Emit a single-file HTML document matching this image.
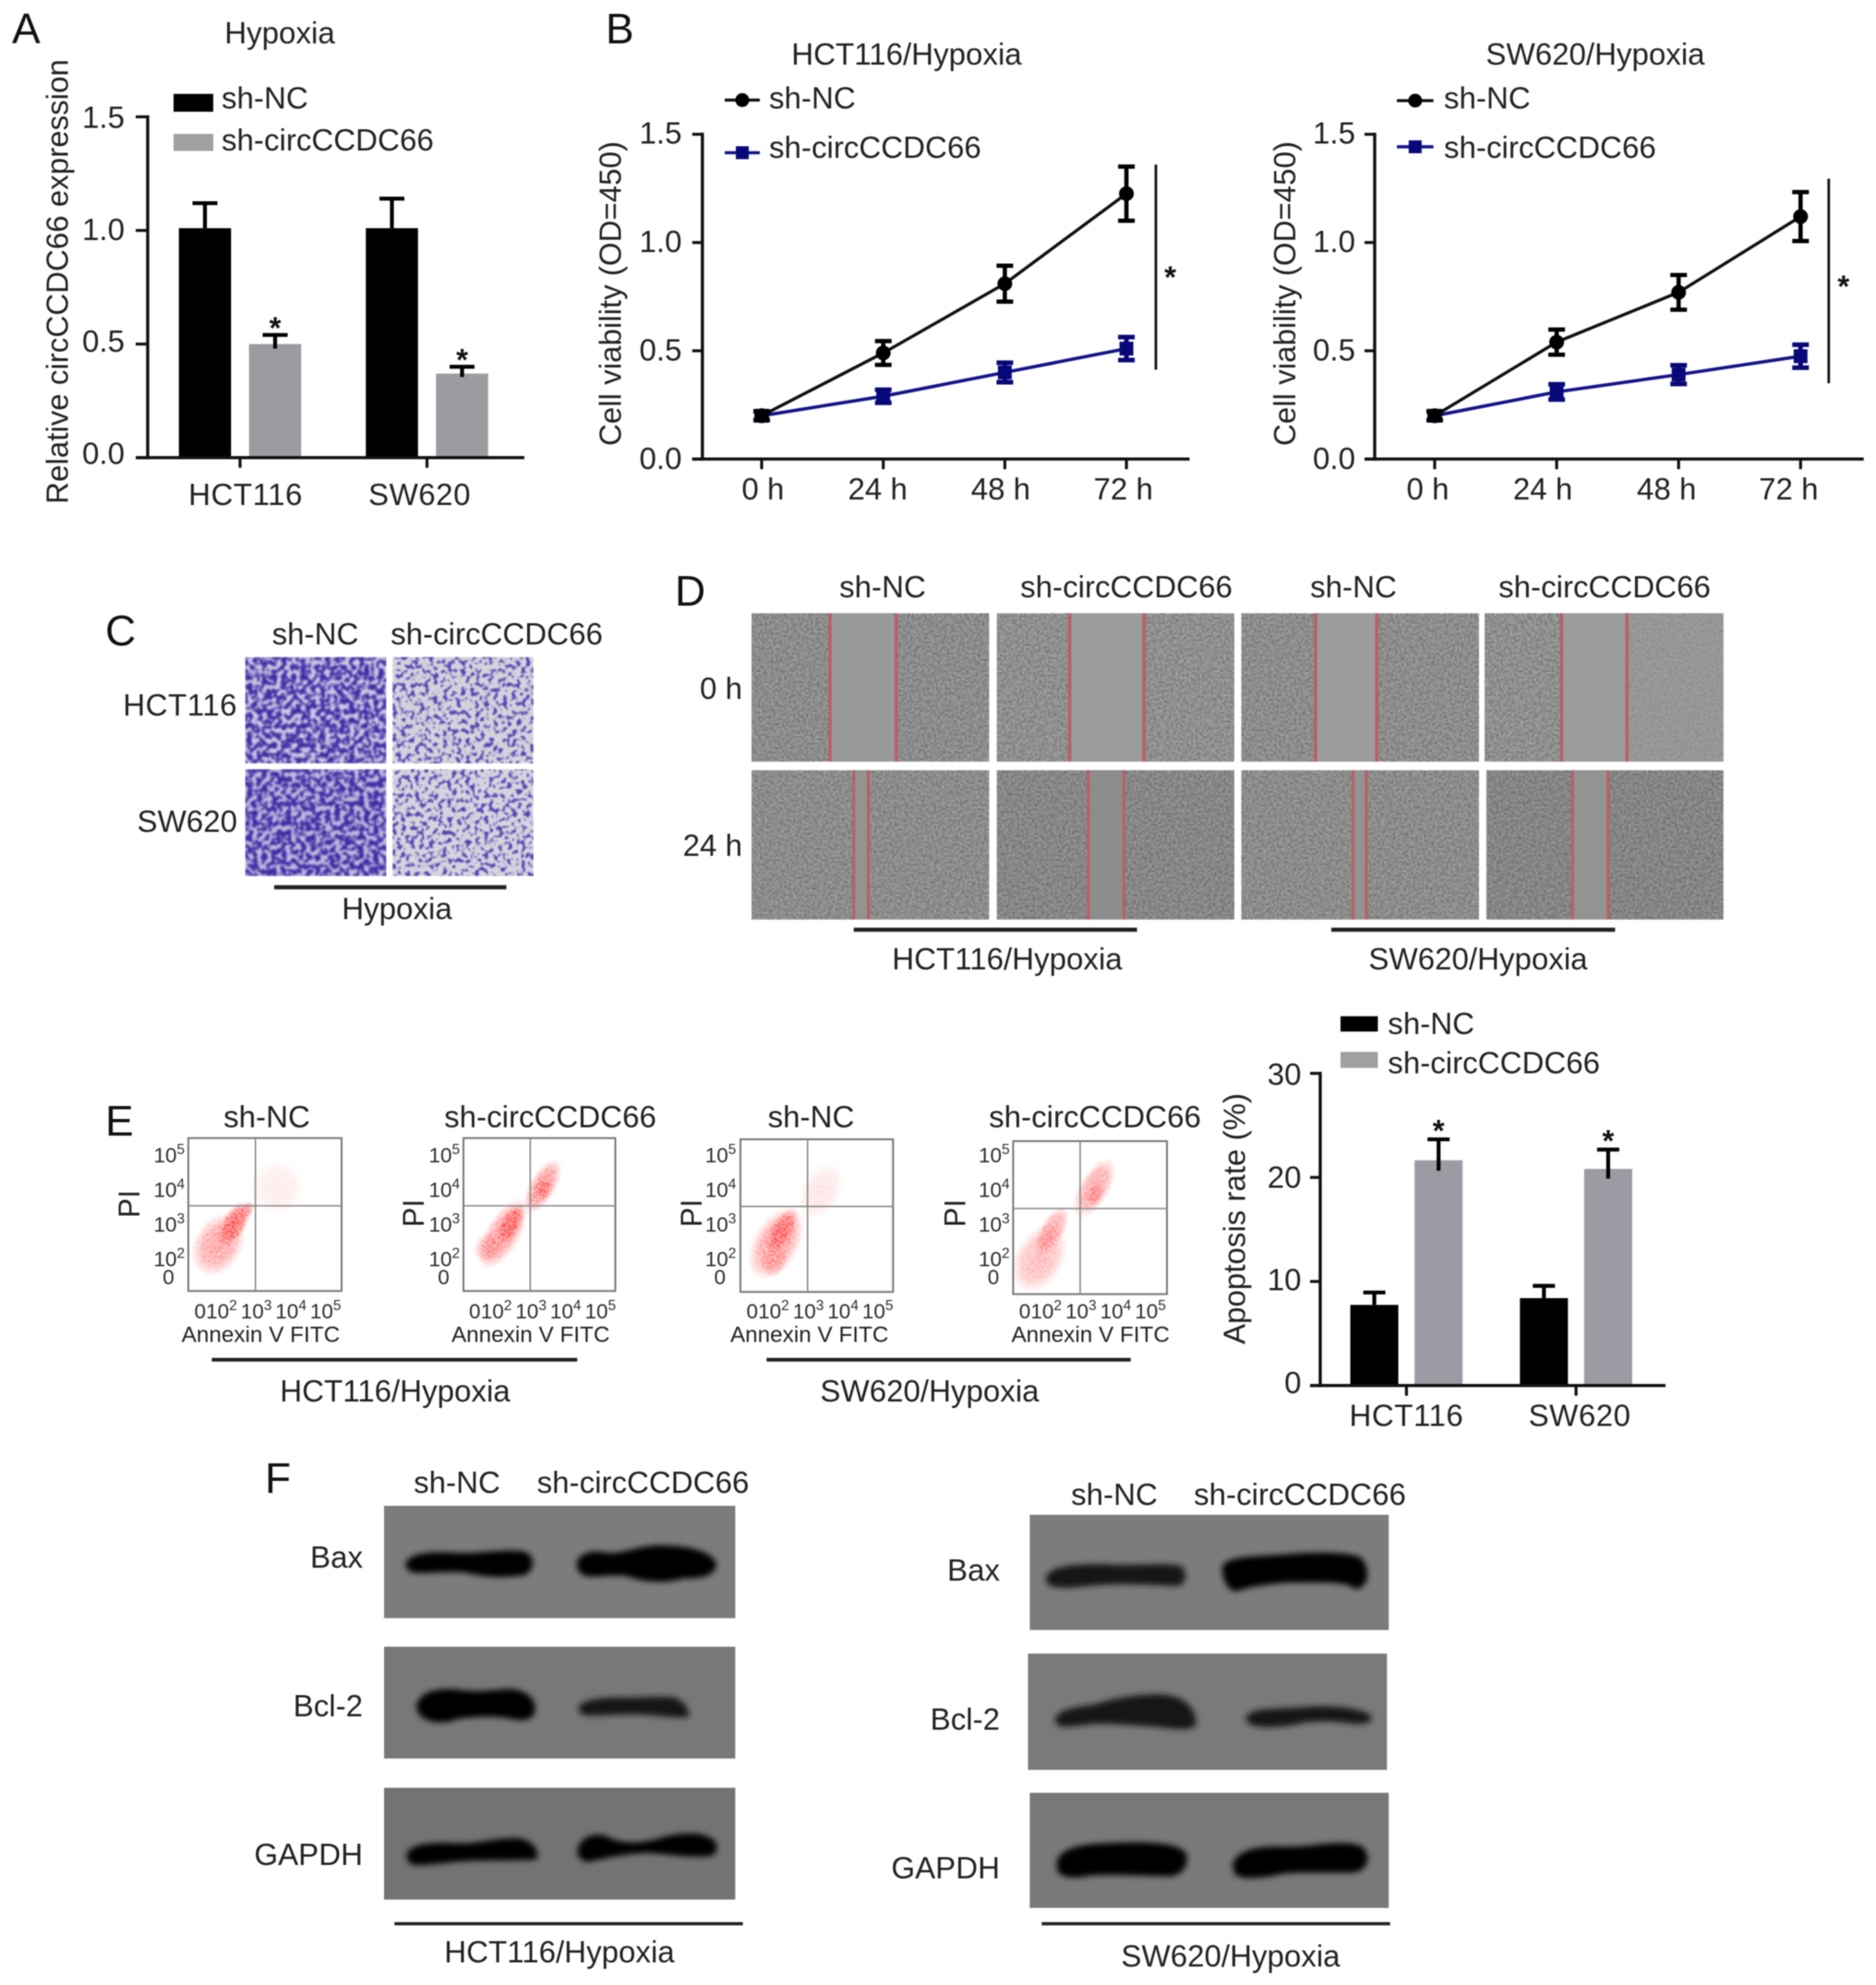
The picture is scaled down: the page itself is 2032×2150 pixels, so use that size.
<!DOCTYPE html>
<html lang="en">
<head>
<meta charset="utf-8">
<title>circCCDC66 hypoxia figure</title>
<style>
html,body{margin:0;padding:0;background:#fff;}
svg{display:block;filter:blur(.6px);}
text{font-family:"Liberation Sans",Arial,sans-serif;fill:#222;}
.t{font-size:33.1px;}
.p{font-size:46px;fill:#111;}
.f{font-size:24.3px;}
</style>
</head>
<body>
<svg id="figure" xmlns="http://www.w3.org/2000/svg" width="2032" height="2150" viewBox="0 0 2032 2150">
<defs>
  <filter id="tw-dense" x="0" y="0" width="1" height="1" color-interpolation-filters="sRGB">
    <feTurbulence type="fractalNoise" baseFrequency=".19" numOctaves="2" seed="4"/>
    <feColorMatrix values="0 0 0 0 .24  0 0 0 0 .17  0 0 0 0 .64  8 0 0 0 -3.4"/>
    <feGaussianBlur stdDeviation="1"/>
  </filter>
  <filter id="tw-sparse" x="0" y="0" width="1" height="1" color-interpolation-filters="sRGB">
    <feTurbulence type="fractalNoise" baseFrequency=".2" numOctaves="2" seed="9"/>
    <feColorMatrix values="0 0 0 0 .33  0 0 0 0 .25  0 0 0 0 .7  10 0 0 0 -5.3"/>
    <feGaussianBlur stdDeviation=".9"/>
  </filter>
  <filter id="cells" x="0" y="0" width="1" height="1" color-interpolation-filters="sRGB">
    <feTurbulence type="fractalNoise" baseFrequency=".42" numOctaves="2" seed="5"/>
    <feColorMatrix values="0 0 0 0 .15  0 0 0 0 .15  0 0 0 0 .15  1 0 0 0 -.34"/>
    <feGaussianBlur stdDeviation=".5"/>
  </filter>
  <filter id="speck" x="-10%" y="-10%" width="120%" height="120%" color-interpolation-filters="sRGB">
    <feTurbulence type="fractalNoise" baseFrequency=".8" numOctaves="1" seed="7" result="n"/>
    <feColorMatrix in="n" values="0 0 0 0 0  0 0 0 0 0  0 0 0 0 0  8 0 0 0 -3.2" result="m"/>
    <feComposite in="SourceGraphic" in2="m" operator="in"/>
    <feGaussianBlur stdDeviation=".4"/>
  </filter>
  <filter id="band" x="-15%" y="-50%" width="130%" height="200%"><feGaussianBlur stdDeviation="9"/></filter>
  <radialGradient id="flowGrad">
    <stop offset="0" stop-color="#ff1414" stop-opacity="1"/>
    <stop offset=".6" stop-color="#ff2424" stop-opacity=".8"/>
    <stop offset="1" stop-color="#ff4444" stop-opacity="0"/>
  </radialGradient>
</defs>

<!-- panel letters -->
<text class="p" x="13" y="47">A</text>
<text class="p" x="656" y="47">B</text>
<text class="p" x="114" y="699">C</text>
<text class="p" x="731" y="656">D</text>
<text class="p" x="114" y="1230">E</text>
<text class="p" x="287" y="1617">F</text>

<!-- chart containers -->
<g id="chart-a"></g>
<g id="chart-b1"></g>
<g id="chart-b2"></g>
<g id="chart-e"></g>
<g id="flow"></g>

<!-- Panel C -->
<g>
  <text class="t" x="341.5" y="698" text-anchor="middle">sh-NC</text>
  <text class="t" x="538" y="698" text-anchor="middle">sh-circCCDC66</text>
  <text class="t" x="257" y="775" text-anchor="end" letter-spacing=".5">HCT116</text>
  <text class="t" x="257" y="901" text-anchor="end">SW620</text>
  <g><rect x="265.7" y="711.7" width="152.7" height="115" fill="#cfcae6"/><rect x="265.7" y="711.7" width="152.7" height="115" filter="url(#tw-dense)"/></g>
  <g><rect x="425.3" y="711.7" width="152.3" height="115" fill="#d4d3dc"/><rect x="425.3" y="711.7" width="152.3" height="115" filter="url(#tw-sparse)"/></g>
  <g><rect x="265.7" y="833.3" width="152.7" height="115.7" fill="#c2bce0"/><rect x="265.7" y="833.3" width="152.7" height="115.7" filter="url(#tw-dense)"/></g>
  <g><rect x="425.3" y="833.3" width="152.3" height="115.7" fill="#d6d5de"/><rect x="425.3" y="833.3" width="152.3" height="115.7" filter="url(#tw-sparse)"/></g>
  <line x1="297" y1="961" x2="548.5" y2="961" stroke="#222" stroke-width="4.5"/>
  <text class="t" x="430" y="995.5" text-anchor="middle">Hypoxia</text>
</g>

<!-- Panel D -->
<g stroke-width="0">
  <text class="t" x="956" y="647" text-anchor="middle">sh-NC</text>
  <text class="t" x="1220" y="647" text-anchor="middle">sh-circCCDC66</text>
  <text class="t" x="1466" y="647" text-anchor="middle">sh-NC</text>
  <text class="t" x="1738" y="647" text-anchor="middle">sh-circCCDC66</text>
  <text class="t" x="804" y="757" text-anchor="end">0 h</text>
  <text class="t" x="804" y="927" text-anchor="end">24 h</text>

  <g><rect x="814" y="664.3" width="257.4" height="160.7" fill="#a0a0a0"/><rect x="814" y="664.3" width="257.4" height="160.7" filter="url(#cells)"/><rect x="899" y="664.3" width="71.6" height="160.7" fill="#999"/><line x1="899" y1="664.3" x2="899" y2="825" stroke="#b8606a" stroke-width="3.6"/><line x1="970.6" y1="664.3" x2="970.6" y2="825" stroke="#b8606a" stroke-width="3.6"/></g>
  <g><rect x="1079.7" y="664.3" width="257.3" height="160.7" fill="#a4a4a4"/><rect x="1079.7" y="664.3" width="257.3" height="160.7" filter="url(#cells)"/><rect x="1158.7" y="664.3" width="80.5" height="160.7" fill="#9b9b9b"/><line x1="1158.7" y1="664.3" x2="1158.7" y2="825" stroke="#b8606a" stroke-width="3.6"/><line x1="1239.2" y1="664.3" x2="1239.2" y2="825" stroke="#b8606a" stroke-width="3.6"/></g>
  <g><rect x="1344.5" y="664.3" width="257.5" height="160.7" fill="#a1a1a1"/><rect x="1344.5" y="664.3" width="257.5" height="160.7" filter="url(#cells)"/><rect x="1425" y="664.3" width="66.3" height="160.7" fill="#9c9c9c"/><line x1="1425" y1="664.3" x2="1425" y2="825" stroke="#b8606a" stroke-width="3.6"/><line x1="1491.3" y1="664.3" x2="1491.3" y2="825" stroke="#b8606a" stroke-width="3.6"/></g>
  <g><rect x="1608" y="664.3" width="258.7" height="160.7" fill="#a4a4a4"/><rect x="1608" y="664.3" width="258.7" height="160.7" filter="url(#cells)"/><rect x="1691.4" y="664.3" width="70.8" height="160.7" fill="#9c9c9c"/><rect x="1762.2" y="664.3" width="104.5" height="160.7" fill="#9c9c9c" opacity=".55"/><line x1="1691.4" y1="664.3" x2="1691.4" y2="825" stroke="#b8606a" stroke-width="3.6"/><line x1="1762.2" y1="664.3" x2="1762.2" y2="825" stroke="#b8606a" stroke-width="3.6"/></g>

  <g><rect x="814" y="834.3" width="257.4" height="161.7" fill="#a0a0a0"/><rect x="814" y="834.3" width="257.4" height="161.7" filter="url(#cells)"/><rect x="924.7" y="834.3" width="15.8" height="161.7" fill="#939393"/><line x1="924.7" y1="834.3" x2="924.7" y2="996" stroke="#b8606a" stroke-width="3.2"/><line x1="940.5" y1="834.3" x2="940.5" y2="996" stroke="#b8606a" stroke-width="3.2"/></g>
  <g><rect x="1079.7" y="834.3" width="257.3" height="161.7" fill="#9a9a9a"/><rect x="1079.7" y="834.3" width="257.3" height="161.7" filter="url(#cells)"/><rect x="1179" y="834.3" width="38.4" height="161.7" fill="#8d8d8d"/><line x1="1179" y1="834.3" x2="1179" y2="996" stroke="#b8606a" stroke-width="3.2"/><line x1="1217.4" y1="834.3" x2="1217.4" y2="996" stroke="#b8606a" stroke-width="3.2"/></g>
  <g><rect x="1344.5" y="834.3" width="257.5" height="161.7" fill="#a0a0a0"/><rect x="1344.5" y="834.3" width="257.5" height="161.7" filter="url(#cells)"/><rect x="1465.7" y="834.3" width="14.3" height="161.7" fill="#939393"/><line x1="1465.7" y1="834.3" x2="1465.7" y2="996" stroke="#b8606a" stroke-width="3.2"/><line x1="1480" y1="834.3" x2="1480" y2="996" stroke="#b8606a" stroke-width="3.2"/></g>
  <g><rect x="1610" y="834.3" width="256.7" height="161.7" fill="#989898"/><rect x="1610" y="834.3" width="256.7" height="161.7" filter="url(#cells)"/><rect x="1703.4" y="834.3" width="38.4" height="161.7" fill="#939393"/><line x1="1703.4" y1="834.3" x2="1703.4" y2="996" stroke="#b8606a" stroke-width="3.2"/><line x1="1741.8" y1="834.3" x2="1741.8" y2="996" stroke="#b8606a" stroke-width="3.2"/></g>

  <line x1="924.7" y1="1007" x2="1231.6" y2="1007" stroke="#222" stroke-width="4.5"/>
  <line x1="1442" y1="1007" x2="1749.4" y2="1007" stroke="#222" stroke-width="4.5"/>
  <text class="t" x="1091" y="1050" text-anchor="middle">HCT116/Hypoxia</text>
  <text class="t" x="1601" y="1050" text-anchor="middle">SW620/Hypoxia</text>
</g>

<!-- Panel E shared labels -->
<g>
  <text class="t" x="289" y="1221" text-anchor="middle">sh-NC</text>
  <text class="t" x="596" y="1221" text-anchor="middle">sh-circCCDC66</text>
  <text class="t" x="878.5" y="1221" text-anchor="middle">sh-NC</text>
  <text class="t" x="1186" y="1221" text-anchor="middle">sh-circCCDC66</text>
  <line x1="229.4" y1="1472.7" x2="625.3" y2="1472.7" stroke="#222" stroke-width="4"/>
  <line x1="830.3" y1="1472.7" x2="1224.8" y2="1472.7" stroke="#222" stroke-width="4"/>
  <text class="t" x="428" y="1518" text-anchor="middle">HCT116/Hypoxia</text>
  <text class="t" x="1007" y="1518" text-anchor="middle">SW620/Hypoxia</text>
</g>

<!-- Panel F left -->
<g>
  <text class="t" x="495" y="1617" text-anchor="middle">sh-NC</text>
  <text class="t" x="696.5" y="1617" text-anchor="middle">sh-circCCDC66</text>
  <rect x="416" y="1631" width="380.4" height="121.7" fill="#7c7c7c"/>
  <rect x="416" y="1783.6" width="380.4" height="121.1" fill="#787878"/>
  <rect x="416" y="1936.4" width="380.4" height="121.1" fill="#737373"/>
  <g transform="translate(260 1580) scale(.37 .3636)" fill="#000" filter="url(#band)" stroke="#000" stroke-width="8">
    <path d="M490,310 C500,285 560,278 650,285 C720,285 780,272 830,280 C860,290 860,325 835,342 C780,352 720,350 660,335 C600,330 540,340 505,335 C492,330 488,320 490,310Z"/>
    <path d="M990,310 C1000,280 1040,275 1080,285 C1130,285 1170,262 1230,262 C1300,262 1370,275 1390,310 C1392,340 1360,355 1300,352 C1250,368 1180,365 1130,345 C1080,340 1040,352 1010,345 C995,338 988,325 990,310Z"/>
    <path d="M520,740 C525,700 570,685 640,692 C680,700 720,695 780,690 C840,690 860,720 860,745 C860,775 830,780 790,770 C740,760 690,765 640,770 C590,790 530,785 520,740Z"/>
    <path fill="#161616" stroke="#161616" d="M995,740 C1010,720 1060,715 1120,715 C1170,718 1230,708 1270,715 C1295,725 1310,745 1310,765 C1280,770 1230,760 1170,758 C1100,755 1040,765 1010,760 C998,755 993,748 995,740Z"/>
    <path d="M492,1180 C500,1150 560,1145 650,1150 C710,1150 760,1130 820,1135 C860,1145 870,1170 865,1190 C800,1195 720,1190 650,1195 C590,1200 530,1210 505,1205 C495,1198 490,1190 492,1180Z"/>
    <path d="M992,1165 C1000,1130 1040,1115 1075,1130 C1110,1150 1160,1150 1210,1140 C1270,1120 1340,1110 1380,1135 C1398,1150 1395,1175 1375,1180 C1320,1185 1260,1175 1200,1170 C1140,1170 1070,1185 1020,1197 C1000,1195 990,1180 992,1165Z"/>
  </g>
  <text class="t" x="393" y="1698" text-anchor="end">Bax</text>
  <text class="t" x="393" y="1859" text-anchor="end">Bcl-2</text>
  <text class="t" x="393" y="2020" text-anchor="end">GAPDH</text>
  <line x1="427.2" y1="2083.6" x2="804.6" y2="2083.6" stroke="#222" stroke-width="3.5"/>
  <text class="t" x="606" y="2125.5" text-anchor="middle">HCT116/Hypoxia</text>
</g>

<!-- Panel F right -->
<g>
  <text class="t" x="1207" y="1630" text-anchor="middle">sh-NC</text>
  <text class="t" x="1408" y="1630" text-anchor="middle">sh-circCCDC66</text>
  <rect x="1115.4" y="1640.7" width="388.8" height="124.8" fill="#7c7c7c"/>
  <rect x="1113.5" y="1791" width="388.8" height="126" fill="#7a7a7a"/>
  <rect x="1115.4" y="1941.8" width="388.8" height="124.7" fill="#797979"/>
  <g transform="translate(950 1580) scale(.37 .3636)" fill="#000" filter="url(#band)" stroke="#000" stroke-width="8">
    <path fill="#121212" stroke="#121212" d="M500,350 C515,320 600,315 700,320 C780,322 860,312 890,325 C905,345 900,370 880,375 C800,372 700,365 620,375 C570,382 520,382 505,372 C498,365 497,358 500,350Z"/>
    <path d="M1015,320 C1030,295 1100,295 1180,290 C1260,282 1360,280 1410,295 C1440,320 1440,380 1400,385 C1380,360 1300,365 1200,365 C1150,370 1090,375 1050,392 C1025,385 1012,350 1015,320Z"/>
    <path fill="#121212" stroke="#121212" d="M525,775 C540,745 590,745 640,735 C700,715 780,702 850,708 C900,715 930,750 930,790 C920,808 870,800 820,795 C760,790 700,785 640,785 C590,790 545,800 530,790Z"/>
    <path fill="#121212" stroke="#121212" d="M1085,770 C1100,745 1170,750 1240,745 C1300,738 1390,740 1440,765 C1450,780 1430,790 1390,785 C1340,778 1300,775 1250,782 C1200,795 1130,800 1100,790 C1088,785 1083,778 1085,770Z"/>
    <path d="M530,1200 C540,1165 590,1150 700,1148 C780,1145 870,1145 900,1175 C910,1205 895,1235 860,1240 C780,1240 690,1232 620,1238 C580,1248 540,1245 532,1225Z"/>
    <path d="M1045,1205 C1060,1170 1110,1155 1200,1160 C1280,1160 1370,1135 1420,1160 C1440,1185 1435,1220 1400,1228 C1320,1232 1250,1225 1190,1232 C1130,1245 1070,1252 1050,1235Z"/>
  </g>
  <text class="t" x="1083" y="1712" text-anchor="end">Bax</text>
  <text class="t" x="1083" y="1873.5" text-anchor="end">Bcl-2</text>
  <text class="t" x="1083" y="2034.5" text-anchor="end">GAPDH</text>
  <line x1="1128.3" y1="2083.6" x2="1505.7" y2="2083.6" stroke="#222" stroke-width="3.5"/>
  <text class="t" x="1333" y="2130" text-anchor="middle">SW620/Hypoxia</text>
</g>
</svg>

<script>
/* Panel A data */
const expCategories = ['HCT116', 'SW620'];
const expNC = [1.01, 1.01];
const expNCErr = [0.11, 0.13];
const expCirc = [0.50, 0.37];
const expCircErr = [0.04, 0.03];
const expTicks = [0, 0.5, 1, 1.5];
const expTickLabels = ['0.0', '0.5', '1.0', '1.5'];

/* Panel B data */
const viabilityHours = ['0 h', '24 h', '48 h', '72 h'];
const viabilityTicks = [0, 0.5, 1, 1.5];
const viabilityTickLabels = ['0.0', '0.5', '1.0', '1.5'];
const hctNC = [0.20, 0.49, 0.81, 1.226];
const hctNCErr = [0.02, 0.055, 0.083, 0.125];
const hctCirc = [0.20, 0.29, 0.40, 0.51];
const hctCircErr = [0.02, 0.03, 0.045, 0.053];
const hctSigSpan = [0.413, 1.36];
const swNC = [0.20, 0.54, 0.77, 1.12];
const swNCErr = [0.02, 0.058, 0.08, 0.113];
const swCirc = [0.20, 0.31, 0.39, 0.475];
const swCircErr = [0.02, 0.035, 0.043, 0.053];
const swSigSpan = [0.35, 1.295];

/* Panel E bar data */
const apopCategories = ['HCT116', 'SW620'];
const apopNC = [7.75, 8.4];
const apopNCErr = [1.19, 1.18];
const apopCirc = [21.65, 20.82];
const apopCircErr = [2.01, 1.86];
const apopTicks = [0, 10, 20, 30];
const apopTickLabels = ['0', '10', '20', '30'];

/* Panel E flow data: clusters as [log10 Annexin, log10 PI, major spread, minor spread, density] */
const flowDecades = [2, 3, 4, 5];
const flowHctNC = [[1.93, 2.36, 0.66, 0.48, 0.55], [2.37, 2.94, 0.5, 0.24, 0.95], [2.75, 3.34, 0.2, 0.12, 0.6], [3.62, 4.0, 0.55, 0.55, 0.12]];
const flowHctCirc = [[2.22, 2.67, 0.78, 0.34, 0.6], [2.43, 2.94, 0.45, 0.2, 0.9], [1.78, 2.27, 0.32, 0.27, 0.4], [3.36, 4.04, 0.6, 0.26, 0.65], [3.36, 3.95, 0.22, 0.16, 0.7]];
const flowSwNC = [[2.1, 2.4, 0.78, 0.45, 0.6], [2.26, 2.75, 0.5, 0.22, 0.85], [2.05, 1.87, 0.32, 0.25, 0.35], [3.38, 3.9, 0.6, 0.4, 0.16]];
const flowSwCirc = [[1.83, 1.96, 0.72, 0.48, 0.42], [2.18, 2.75, 0.55, 0.24, 0.55], [3.41, 3.99, 0.65, 0.3, 0.55], [3.42, 3.8, 0.22, 0.16, 0.5]];

const SVGNS = 'http://www.w3.org/2000/svg';
function mk(tag, attrs, parent, text) {
  const node = document.createElementNS(SVGNS, tag);
  for (const key in attrs) node.setAttribute(key, attrs[key]);
  if (text !== undefined) node.textContent = text;
  parent.appendChild(node);
  return node;
}
function slug(s) { return String(s).toLowerCase().replace(/[^a-z0-9]+/g, '-'); }

/* y axis shared between charts */
function drawYAxis(root, c, ticks, labels, y) {
  const axis = mk('line', {x1: c.axisX, y1: y(c.max) - 1.7, x2: c.axisX, y2: c.y0 + 1.7, stroke: '#111', 'stroke-width': 3.4}, root);
  
  
  ticks.forEach(function (v, i) {
    const tick = mk('line', {x1: c.axisX - c.tickLen, y1: y(v), x2: c.axisX, y2: y(v), stroke: '#111', 'stroke-width': 3.2}, root);
    
    
    const baseline = c.labelBase0 + (c.labelBaseTop - c.labelBase0) * (v / c.max);
    const lab = mk('text', {x: c.labelRight, y: baseline, 'text-anchor': 'end', class: 't'}, root, labels[i]);
    
    
  });
  const title = mk('text', {transform: 'translate(' + c.titleX + ',' + c.titleY + ') rotate(-90)', 'text-anchor': 'middle', class: 't'}, root, c.yTitle);
  
  
}
function drawXAxis(root, c, xs, labels) {
  const axis = mk('line', {x1: c.axisX - c.tickLen, y1: c.y0, x2: c.axisEnd, y2: c.y0, stroke: '#111', 'stroke-width': 3.4}, root);
  
  
  labels.forEach(function (t, i) {
    const tick = mk('line', {x1: xs[i], y1: c.y0, x2: xs[i], y2: c.y0 + 11, stroke: '#111', 'stroke-width': 3.2}, root);
    
    
    const lab = mk('text', {x: xs[i] + c.labelNudge[i], y: c.xLabelY, 'text-anchor': 'middle', class: 't', 'letter-spacing': c.labelTrack || 0}, root, t);
    
    
  });
}
function drawErr(root, x, yTop, yBottom, capW, sw, color, withBottomCap, name) {
  const g = mk('g', {stroke: color, 'stroke-width': sw}, root);
  
  
  mk('line', {x1: x, y1: yTop, x2: x, y2: yBottom}, g);
  mk('line', {x1: x - capW / 2, y1: yTop, x2: x + capW / 2, y2: yTop}, g);
  if (withBottomCap) mk('line', {x1: x - capW / 2, y1: yBottom, x2: x + capW / 2, y2: yBottom}, g);
}

function drawBars(id, c, cats, a, aErr, b, bErr, ticks, labels) {
  const root = document.getElementById(id);
  const y = function (v) { return c.y0 - v * c.unit; };
  drawYAxis(root, c, ticks, labels, y);
  const xs = cats.map(function (_, i) { return c.catX0 + i * c.catStep; });
  cats.forEach(function (cat, i) {
    const barA = mk('rect', {x: xs[i] - c.offset - c.barW / 2, y: y(a[i]), width: c.barW, height: c.y0 - y(a[i]), fill: '#000'}, root);
    
    
    drawErr(root, xs[i] - c.offset, y(a[i] + aErr[i]), y(a[i]), c.capW, 4.2, '#000', false, 'error-bar-' + slug(cat) + '-sh-nc');
    const barB = mk('rect', {x: xs[i] + c.offset - c.barW / 2, y: y(b[i]), width: c.barW, height: c.y0 - y(b[i]), fill: c.gray}, root);
    
    
    drawErr(root, xs[i] + c.offset, y(b[i] + bErr[i]), y(b[i] - bErr[i] / 2), c.capW, 4.2, '#000', false, 'error-bar-' + slug(cat) + '-sh-circccdc66');
    const star = mk('text', {x: xs[i] + c.offset, y: y(b[i] + bErr[i]) - c.starGap + 20, 'text-anchor': 'middle', 'font-size': 33, 'font-weight': 'bold', style: 'fill:#111'}, root, '*');
    
    
  });
  drawXAxis(root, c, xs, cats);
  c.legend.forEach(function (it) {
    const sw = mk('rect', {x: c.legendX, y: it.y, width: c.legendW, height: it.h, fill: it.fill}, root);
    
    
    const tx = mk('text', {x: c.legendTextX, y: it.base, class: 't'}, root, it.label);
    
    
  });
}

function drawLines(id, c, hours, nc, ncErr, circ, circErr, sig, ticks, labels) {
  const root = document.getElementById(id);
  const y = function (v) { return c.y0 - v * c.unit; };
  const x = function (i) { return c.xs0 + i * c.xStep; };
  drawYAxis(root, c, ticks, labels, y);
  const xs = hours.map(function (_, i) { return x(i); });
  drawXAxis(root, c, xs, hours);

  const blue = '#14148c';
  const circLine = mk('polyline', {points: circ.map(function (v, i) { return x(i) + ',' + y(v); }).join(' '), fill: 'none', stroke: blue, 'stroke-width': 3.6}, root);
  
  
  circ.forEach(function (v, i) {
    drawErr(root, x(i), y(v + circErr[i]), y(v - circErr[i]), 18, 5, '#08087a', true, 'error-bar-sh-circccdc66-' + slug(hours[i]));
    const m = mk('rect', {x: x(i) - 7.5, y: y(v) - 7.5, width: 15, height: 15, fill: '#08087a'}, root);
    
    
  });
  const ncLine = mk('polyline', {points: nc.map(function (v, i) { return x(i) + ',' + y(v); }).join(' '), fill: 'none', stroke: '#111', 'stroke-width': 3.4}, root);
  
  
  nc.forEach(function (v, i) {
    drawErr(root, x(i), y(v + ncErr[i]), y(v - ncErr[i]), 18, 4.6, '#000', true, 'error-bar-sh-nc-' + slug(hours[i]));
    const m = mk('circle', {cx: x(i), cy: y(v), r: 8, fill: '#000'}, root);
    
    
  });

  const sigLine = mk('line', {x1: c.sigX, y1: y(sig[1]), x2: c.sigX, y2: y(sig[0]), stroke: '#111', 'stroke-width': 2.8}, root);
  
  
  const star = mk('text', {x: c.sigX + c.starDx, y: y((sig[0] + sig[1]) / 2) + c.starDy, 'text-anchor': 'middle', 'font-size': 33, 'font-weight': 'bold', style: 'fill:#111'}, root, '*');
  
  

  const title = mk('text', {x: c.titleCx, y: 70, 'text-anchor': 'middle', class: 't'}, root, c.chartTitle);
  
  

  const l1 = mk('line', {x1: c.legX1, y1: c.legY1, x2: c.legX2, y2: c.legY1, stroke: '#111', 'stroke-width': 3.2}, root);
  
  
  const m1 = mk('circle', {cx: (c.legX1 + c.legX2) / 2, cy: c.legY1, r: 7.5, fill: '#000'}, root);
  
  
  const t1 = mk('text', {x: c.legTextX, y: 117.6, class: 't'}, root, 'sh-NC');
  
  
  const l2 = mk('line', {x1: c.legX1, y1: c.legY2, x2: c.legX2, y2: c.legY2, stroke: blue, 'stroke-width': 3.4}, root);
  
  
  const m2 = mk('rect', {x: (c.legX1 + c.legX2) / 2 - 7, y: c.legY2 - 7, width: 14, height: 14, fill: '#08087a'}, root);
  
  
  const t2 = mk('text', {x: c.legTextX, y: 171, class: 't'}, root, 'sh-circCCDC66');
  
  
}

function powerLabel(parent, x, baseline, exp) {
  const t = mk('text', {x: x, y: baseline, class: 'f', style: 'font-size:22.5px;fill:#2c2c2c'}, parent);
  mk('tspan', {}, t, '10');
  mk('tspan', {dy: -9, style: 'font-size:15.5px'}, t, String(exp));
  return t;
}
const DECADE = 37.6;
function drawFlow(c, clusters) {
  const root = document.getElementById('flow');
  const g = mk('g', {}, root);
  
  
  const fx = function (d) { return c.vert + (d - 3) * DECADE; };
  const fy = function (d) { return c.y3 - (d - 3) * DECADE; };

  const cloud = mk('g', {filter: 'url(#speck)'}, g);
  
  
  mk('rect', {x: c.x, y: c.y, width: c.w, height: c.h, fill: '#fff', 'fill-opacity': 0}, cloud);
  clusters.forEach(function (cl) {
    const cx = fx(cl[0]), cy = fy(cl[1]);
    mk('ellipse', {cx: cx, cy: cy, rx: cl[2] * DECADE * 1.5, ry: cl[3] * DECADE * 1.5, fill: 'url(#flowGrad)', opacity: cl[4], transform: 'rotate(-60 ' + cx + ' ' + cy + ')'}, cloud);
  });

  const box = mk('rect', {x: c.x, y: c.y, width: c.w, height: c.h, fill: 'none', stroke: '#777', 'stroke-width': 2}, g);
  
  
  const v = mk('line', {x1: c.vert, y1: c.y, x2: c.vert, y2: c.y + c.h, stroke: '#888', 'stroke-width': 1.6}, g);
  
  
  const h = mk('line', {x1: c.x, y1: c.horiz, x2: c.x + c.w, y2: c.horiz, stroke: '#888', 'stroke-width': 1.6}, g);
  
  

  flowDecades.forEach(function (d) {
    const yl = powerLabel(g, c.yLabelX, fy(d) + 10, d);
    
    
    const xl = powerLabel(g, fx(d) - 16, 1428, d);
    
    
  });
  const y0l = mk('text', {x: c.yLabelX + 16, y: c.y3 + 67, 'text-anchor': 'middle', style: 'font-size:22.5px;fill:#2c2c2c'}, g, '0');
  
  
  const x0l = mk('text', {x: c.vert - 60, y: 1428, 'text-anchor': 'middle', style: 'font-size:22.5px;fill:#2c2c2c'}, g, '0');
  
  

  const xt = mk('text', {x: c.xTitleCx, y: 1453.3, 'text-anchor': 'middle', class: 'f'}, g, 'Annexin V FITC');
  
  
  const yt = mk('text', {transform: 'translate(' + c.piX + ',' + c.piY + ') rotate(-90)', 'text-anchor': 'middle', style: 'font-size:32px'}, g, 'PI');
  
  
}

drawBars('chart-a', {
  axisX: 160, tickLen: 13, axisEnd: 568, y0: 495.7, unit: 246.1, max: 1.5,
  labelRight: 135, labelBase0: 502.4, labelBaseTop: 138.7,
  titleX: 73.5, titleY: 305, yTitle: 'Relative circCCDC66 expression',
  catX0: 260, catStep: 202.5, offset: 38, barW: 56.5, capW: 27, gray: '#9b9ba0', starGap: 16.5,
  xLabelY: 546.8, labelNudge: [6, -8], labelTrack: 0.5,
  legendX: 188, legendW: 43, legendTextX: 240,
  legend: [{label: 'sh-NC', y: 101.7, h: 19.3, base: 117.6, fill: '#000'}, {label: 'sh-circCCDC66', y: 145, h: 18.5, base: 162.8, fill: '#a0a0a0'}]
}, expCategories, expNC, expNCErr, expCirc, expCircErr, expTicks, expTickLabels);

const hypoxiaTitle = mk('text', {x: 303, y: 47, 'text-anchor': 'middle', class: 't'}, document.getElementById('chart-a'), 'Hypoxia');



drawLines('chart-b1', {
  axisX: 760.8, tickLen: 11, axisEnd: 1288.5, y0: 497.2, unit: 234.5, max: 1.5,
  labelRight: 738.5, labelBase0: 508, labelBaseTop: 155.4,
  titleX: 672.4, titleY: 318, yTitle: 'Cell viability (OD=450)',
  xs0: 825, xStep: 131.7, xLabelY: 541, labelNudge: [1.4, -6, -4.5, -3.4],
  sigX: 1252, starDx: 15.5, starDy: 22, titleCx: 982, chartTitle: 'HCT116/Hypoxia',
  legX1: 785, legX2: 823, legY1: 108.4, legY2: 165.4, legTextX: 833
}, viabilityHours, hctNC, hctNCErr, hctCirc, hctCircErr, hctSigSpan, viabilityTicks, viabilityTickLabels);

drawLines('chart-b2', {
  axisX: 1489, tickLen: 11, axisEnd: 2018.7, y0: 497.2, unit: 234.5, max: 1.5,
  labelRight: 1468, labelBase0: 508, labelBaseTop: 155.4,
  titleX: 1403, titleY: 318, yTitle: 'Cell viability (OD=450)',
  xs0: 1554, xStep: 132.1, xLabelY: 541, labelNudge: [-7.5, -15, -13, -13],
  sigX: 1980.8, starDx: 16, starDy: 17, titleCx: 1728, chartTitle: 'SW620/Hypoxia',
  legX1: 1513, legX2: 1552.7, legY1: 109, legY2: 159, legTextX: 1564
}, viabilityHours, swNC, swNCErr, swCirc, swCircErr, swSigSpan, viabilityTicks, viabilityTickLabels);

drawBars('chart-e', {
  axisX: 1430, tickLen: 11, axisEnd: 1804, y0: 1500.7, unit: 11.27, max: 30,
  labelRight: 1409.5, labelBase0: 1509, labelBaseTop: 1175,
  titleX: 1348.5, titleY: 1320, yTitle: 'Apoptosis rate (%)',
  catX0: 1523.4, catStep: 183.7, offset: 34.8, barW: 52, capW: 24, gray: '#9b9ba3', starGap: 18,
  xLabelY: 1544.3, labelNudge: [0, 4], labelTrack: 0.5,
  legendX: 1452, legendW: 40.4, legendTextX: 1503.3,
  legend: [{label: 'sh-NC', y: 1100.7, h: 16.6, base: 1120, fill: '#000'}, {label: 'sh-circCCDC66', y: 1139.3, h: 17.4, base: 1162.7, fill: '#a0a0a0'}]
}, apopCategories, apopNC, apopNCErr, apopCirc, apopCircErr, apopTicks, apopTickLabels);

drawFlow({name: 'hct116-sh-nc', x: 204, y: 1232.7, w: 166, h: 165.6, vert: 276.7, horiz: 1306, y3: 1324, yLabelX: 166.5, xTitleCx: 282.4, piX: 151, piY: 1304}, flowHctNC);
drawFlow({name: 'hct116-sh-circccdc66', x: 502, y: 1232.7, w: 164.5, h: 165.6, vert: 574.3, horiz: 1306, y3: 1324, yLabelX: 464.5, xTitleCx: 574.7, piX: 459, piY: 1314}, flowHctCirc);
drawFlow({name: 'sw620-sh-nc', x: 802, y: 1234, w: 165.3, h: 165.3, vert: 874.7, horiz: 1306.7, y3: 1324, yLabelX: 763.7, xTitleCx: 876.7, piX: 760, piY: 1314}, flowSwNC);
drawFlow({name: 'sw620-sh-circccdc66', x: 1097.4, y: 1236, w: 166.6, h: 165.7, vert: 1170, horiz: 1309, y3: 1324, yLabelX: 1060, xTitleCx: 1181.2, piX: 1045.7, piY: 1314}, flowSwCirc);
</script>
</body>
</html>
